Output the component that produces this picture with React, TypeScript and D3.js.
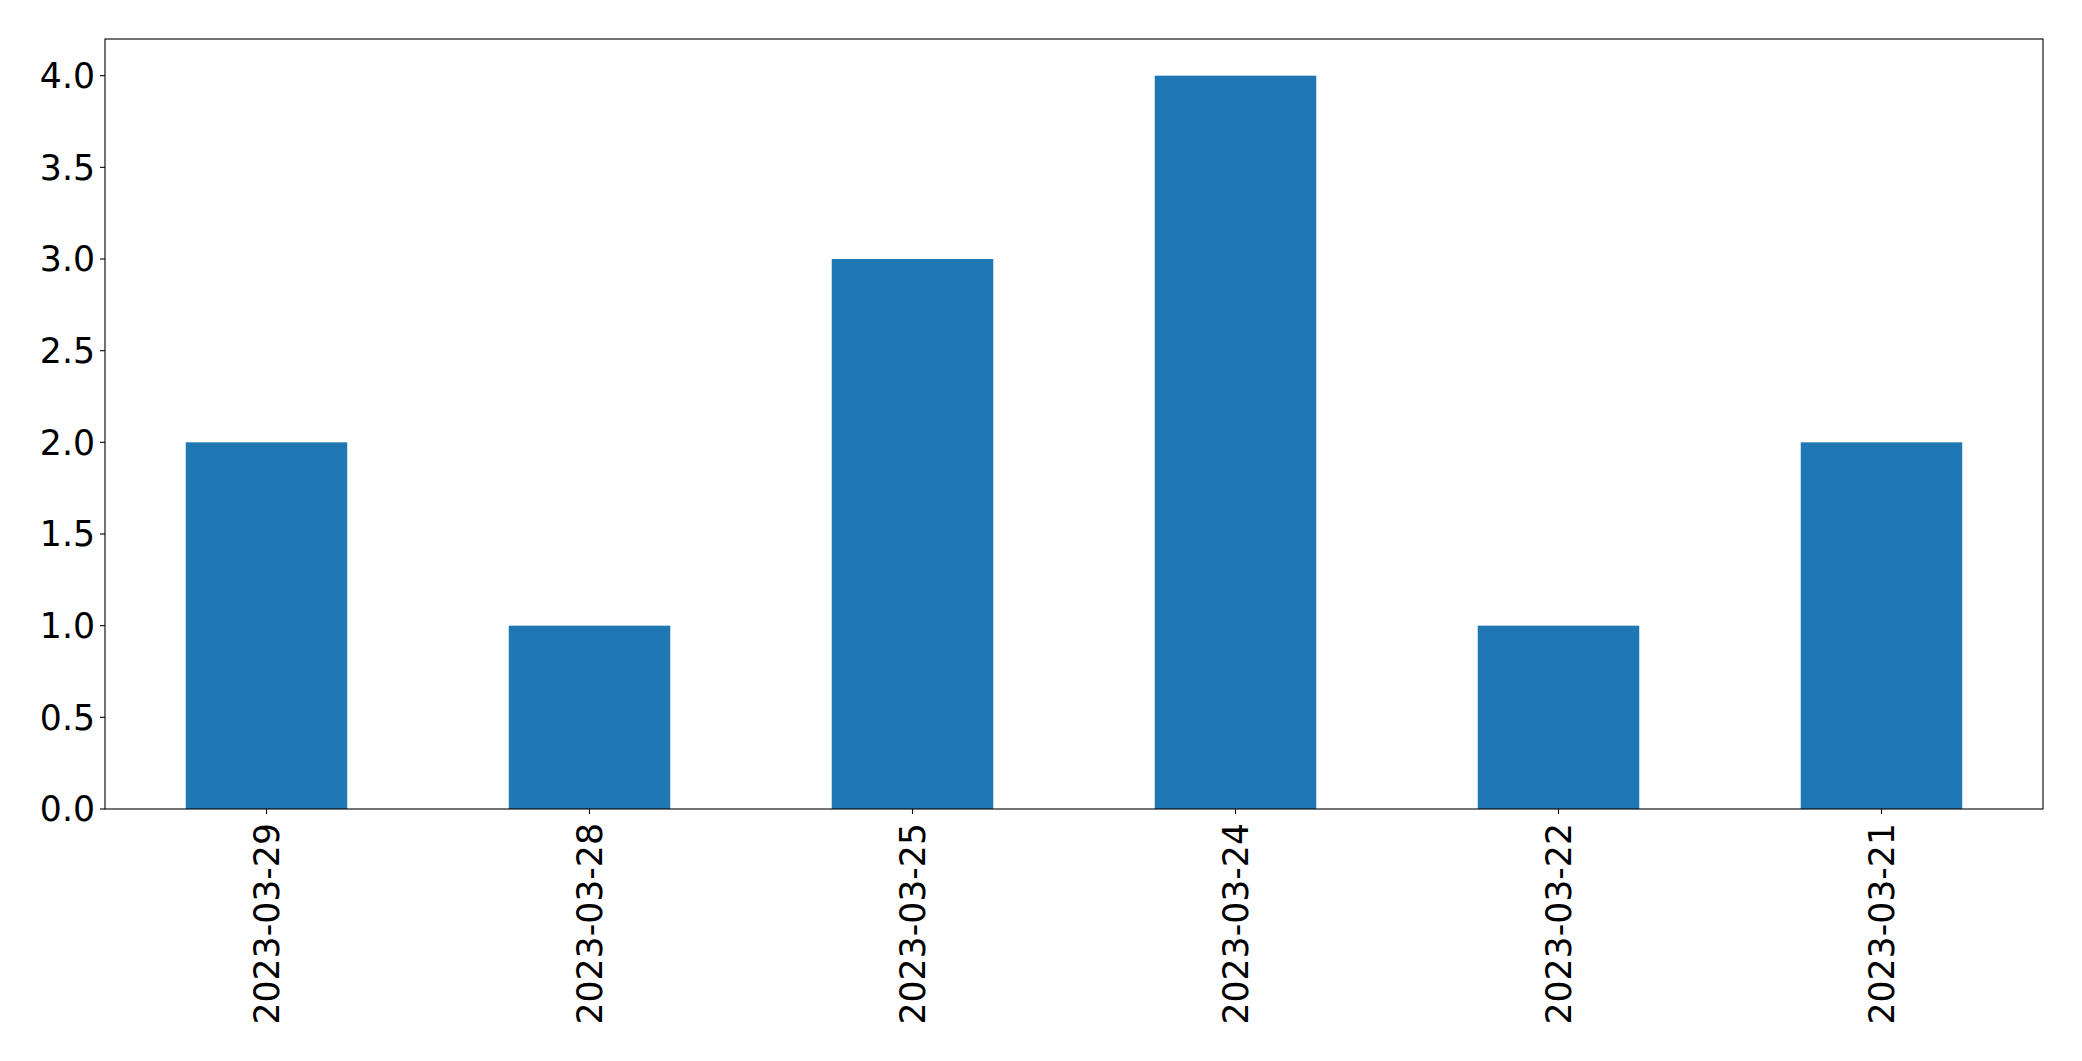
import React from "react";
import * as d3 from "d3";

const categories = ["2023-03-29", "2023-03-28", "2023-03-25", "2023-03-24", "2023-03-22", "2023-03-21"];
const values = [2, 1, 3, 4, 1, 2];
const yTicks = [0, 0.5, 1.0, 1.5, 2.0, 2.5, 3.0, 3.5, 4.0];

const W = 2082;
const H = 1061;
const M = { left: 105, right: 2043, top: 39, bottom: 809 };
const FONT = "DejaVu Sans, sans-serif";
const FS = 34.7;

export default function App() {
  const x = d3.scaleBand<string>().domain(categories).range([M.left, M.right]).paddingInner(0.5).paddingOuter(0.25);
  const y = d3.scaleLinear().domain([0, 4.2]).range([M.bottom, M.top]);
  return (
    <svg width={W} height={H} style={{ position: "absolute", left: 0, top: 0, background: "#fff" }} fontFamily={FONT}>
      <rect x={0} y={0} width={W} height={H} fill="#fff" />
      {categories.map((c, i) => (
        <rect key={c} x={x(c)!} y={y(values[i])} width={x.bandwidth()} height={y(0) - y(values[i])} fill="#1f77b4" />
      ))}
      <rect x={M.left} y={M.top} width={M.right - M.left} height={M.bottom - M.top} fill="none" stroke="#000" strokeWidth={1.1} />
      {yTicks.map((t) => (
        <g key={t}>
          <line x1={M.left - 5} x2={M.left} y1={y(t)} y2={y(t)} stroke="#000" strokeWidth={1.1} />
          <text x={M.left - 10} y={y(t)} dy="0.36em" textAnchor="end" fontSize={FS} fill="#000">
            {t.toFixed(1)}
          </text>
        </g>
      ))}
      {categories.map((c) => {
        const cx = x(c)! + x.bandwidth() / 2;
        return (
          <g key={c}>
            <line x1={cx} x2={cx} y1={M.bottom} y2={M.bottom + 5} stroke="#000" strokeWidth={1.1} />
            <text
              transform={`translate(${cx},${M.bottom + 14}) rotate(-90)`}
              dy="0.36em"
              textAnchor="end"
              fontSize={FS}
              fill="#000"
            >
              {c}
            </text>
          </g>
        );
      })}
    </svg>
  );
}
